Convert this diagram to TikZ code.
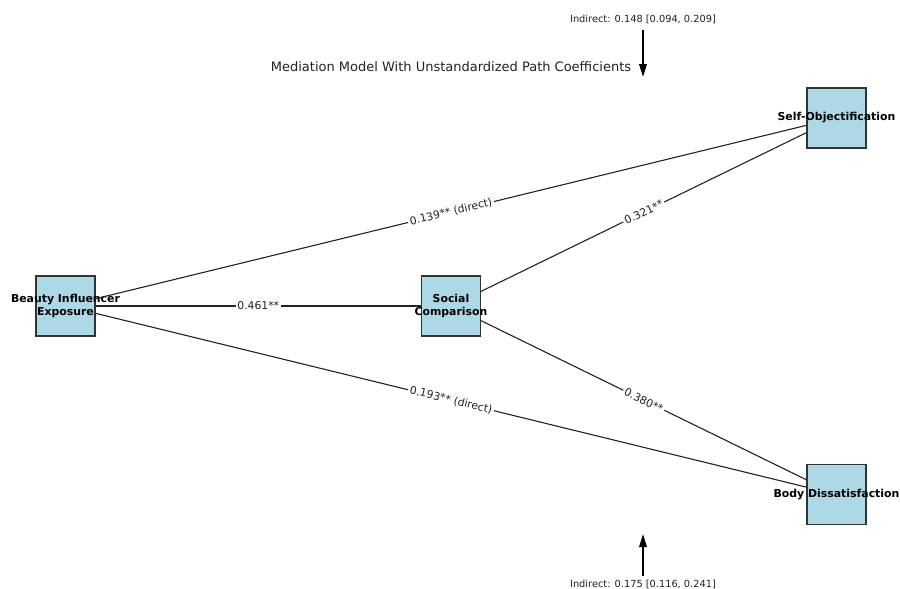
\documentclass[tikz,border=0pt]{standalone}
\usepackage{fontspec}
\setmainfont{DejaVu Sans}
\usetikzlibrary{arrows.meta}
\definecolor{boxblue}{HTML}{ADD8E6}
\definecolor{inkgray}{HTML}{222222}
\begin{document}
\begin{tikzpicture}[x=1pt,y=-1pt,
  varbox/.style={draw=black!80, fill=boxblue, line width=1.1pt, minimum width=59pt, minimum height=60pt, inner sep=0pt},
  varlabel/.style={font=\fontsize{10.9}{12.8}\selectfont\bfseries, align=center, text=black},
  pathline/.style={draw=inkgray, line width=1.1pt},
  coef/.style={fill=white, inner sep=1.8pt, font=\fontsize{10.8}{12}\selectfont, text=inkgray, sloped, midway},
  indtext/.style={font=\fontsize{9.8}{11}\selectfont, text=inkgray, inner sep=0pt},
  bigarrow/.style={draw=black, line width=1.8pt, -{Triangle[length=13pt,width=7.5pt]}}
]
\useasboundingbox (0,0) rectangle (900,589);

\node[font=\fontsize{13}{15}\selectfont, text=inkgray, inner sep=0pt] (title) at (451,67) {Mediation Model With Unstandardized Path Coefficients};

\node[varbox, label={[varlabel]center:{Beauty Influencer\\Exposure}}] (bie) at (65.5,306) {};
\node[varbox, label={[varlabel]center:{Social\\Comparison}}] (sc) at (451,306) {};
\node[varbox, label={[varlabel]center:{Self-Objectification}}] (so) at (836.5,118) {};
\node[varbox, label={[varlabel]center:{Body Dissatisfaction}}] (bd) at (836.5,494.5) {};

\draw[pathline] (bie) -- (sc) node[coef] {0.461**};
\draw[pathline] (sc) -- (so) node[coef] {0.321**};
\draw[pathline] (sc) -- (bd) node[coef] {0.380**};
\draw[pathline] (bie) -- (so) node[coef] {0.139** (direct)};
\draw[pathline] (bie) -- (bd) node[coef] {0.193** (direct)};

\node[indtext] (topind) at (643,19) {Indirect: 0.148 [0.094, 0.209]};
\coordinate (topfrom) at (643,30);
\coordinate (topto) at (643,77);
\draw[bigarrow] (topfrom) -- (topto);

\node[indtext] (botind) at (643,584) {Indirect: 0.175 [0.116, 0.241]};
\coordinate (botfrom) at (643,576);
\coordinate (botto) at (643,534);
\draw[bigarrow] (botfrom) -- (botto);
\end{tikzpicture}
\end{document}
